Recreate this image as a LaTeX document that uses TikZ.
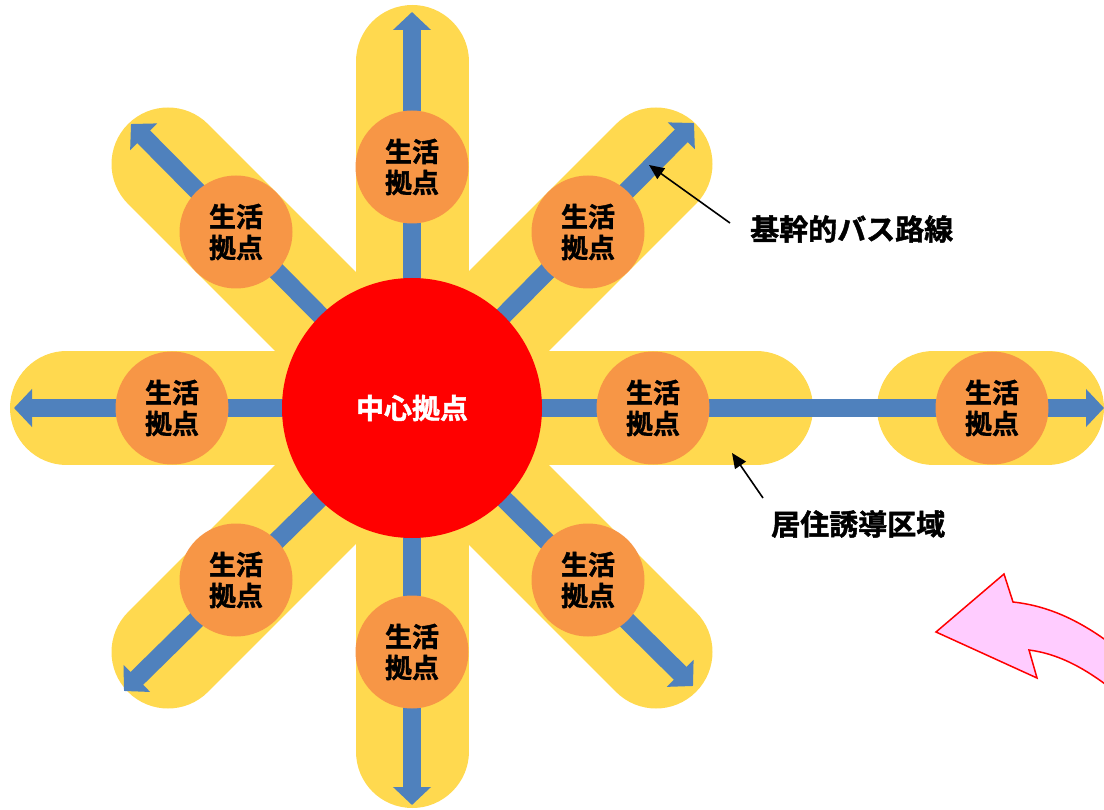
\documentclass[tikz,border=0pt]{standalone}
\usepackage{fontspec}
\newfontfamily\jp{Noto Sans CJK JP}[BoldFont={Noto Sans CJK JP Bold}, BoldFeatures={FakeBold=1.5}]
\usetikzlibrary{arrows.meta}
\definecolor{bandyellow}{HTML}{FFD94F}
\definecolor{routeblue}{HTML}{4F81BD}
\definecolor{suborange}{HTML}{F79646}
\definecolor{hubred}{HTML}{FF0000}
\definecolor{pinkfill}{HTML}{FFCCFF}
\begin{document}
\begin{tikzpicture}[x=1pt,y=-1pt,
  band/.style={line width=113pt, line cap=round, draw=bandyellow},
  route/.style={draw=routeblue, line width=18pt, -{Triangle[length=18pt,width=37pt]}},
  hub/.style={circle, fill=hubred, minimum size=260pt, inner sep=0pt, text=white,
    font=\jp\bfseries\fontsize{28}{30}\selectfont},
  sub/.style={circle, fill=suborange, minimum size=113pt, inner sep=0pt, align=center,
    font=\jp\bfseries\fontsize{27}{31}\selectfont},
  lbl/.style={anchor=west, inner sep=0pt, font=\jp\bfseries\fontsize{29}{30}\selectfont},
  leader/.style={draw=black, line width=1.6pt, -{Triangle[length=15pt,width=13pt]}},
  turnarrow/.style={fill=pinkfill, draw=red, line width=1.5pt, line join=miter}]
\clip (0,0) rectangle (1104,810);
\coordinate (o) at (412,408);
% yellow bands (residential areas)
\draw[band] (412,61.5) -- (412,751.5);
\draw[band] (66.5,408) -- (756.5,408);
\draw[band] (168,164) -- (656,652);
\draw[band] (656,164) -- (168,652);
\draw[band] (933.5,408) -- (1047.5,408);
% blue route arrows
\coordinate (tN) at (412,12);
\coordinate (tS) at (412,805);
\coordinate (tW) at (14,408);
\coordinate (tE) at (1104,408);
\coordinate (tNW) at (131,124);
\coordinate (tNE) at (694,123);
\coordinate (tSW) at (124,691);
\coordinate (tSE) at (693,686);
\foreach \t in {tN,tS,tW,tE,tNW,tNE,tSW,tSE}
  \draw[route] (o) -- (\t);
% hub
\node[hub] (hub) at (o) {中心拠点};
% sub centres
\node[sub] (sN)  at (412,167) {生活\\拠点};
\node[sub] (sS)  at (412,652) {生活\\拠点};
\node[sub] (sW)  at (172,408) {生活\\拠点};
\node[sub] (sE)  at (653,408) {生活\\拠点};
\node[sub] (sFE) at (992,408) {生活\\拠点};
\node[sub] (sNW) at (236,232) {生活\\拠点};
\node[sub] (sNE) at (588,232) {生活\\拠点};
\node[sub] (sSW) at (236,580) {生活\\拠点};
\node[sub] (sSE) at (588,580) {生活\\拠点};
% labels
\node[lbl] (lbus) at (750,229) {基幹的バス路線};
\node[lbl] (lres) at (771,524) {居住誘導区域};
\coordinate (bus0) at (730,223);
\coordinate (bus1) at (649,165);
\coordinate (res0) at (763,498);
\coordinate (res1) at (732,453);
\draw[leader] (bus0) -- (bus1);
\draw[leader] (res0) -- (res1);
% pink curved arrow
\draw[turnarrow] (936,632) -- (1004,574) -- (1013,602)
  .. controls (1050,606) and (1085,622) .. (1125,655)
  -- (1125,700)
  .. controls (1090,670) and (1060,654) .. (1029,650)
  -- (1037,678) -- cycle;
\end{tikzpicture}
\end{document}
